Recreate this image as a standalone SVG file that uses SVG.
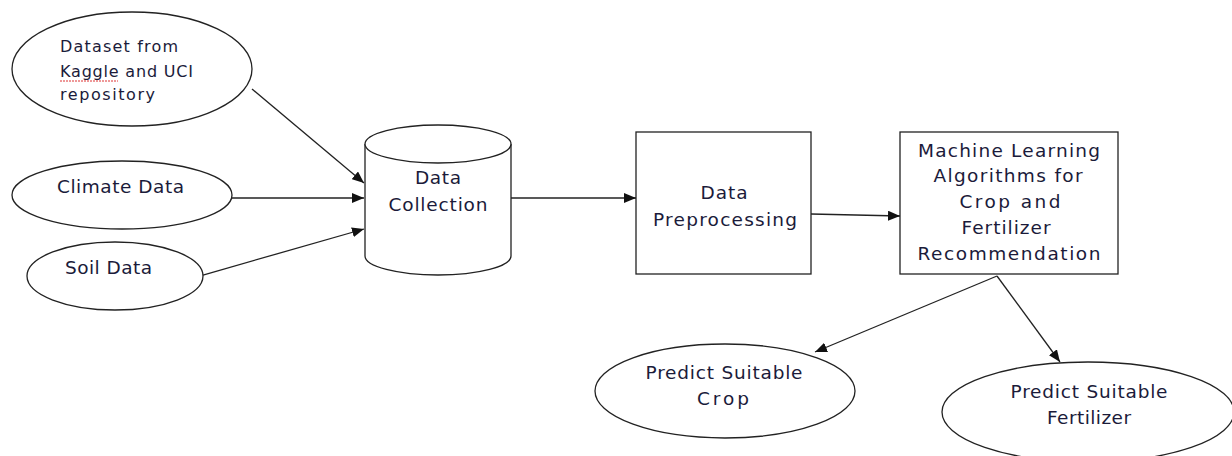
<svg xmlns="http://www.w3.org/2000/svg" width="1232" height="456" viewBox="0 0 1232 456">
<style>
.shape{fill:#fff;stroke:#222;stroke-width:1.3}
.conn{fill:none;stroke:#222;stroke-width:1.3}
text{font-family:"DejaVu Sans","Open Sans",sans-serif;font-size:18.5px;fill:#1b1b3a}
.s{font-size:16px}
.c{text-anchor:middle}
</style>
<defs>
<marker id="ah" viewBox="0 0 12 10" refX="12" refY="5" markerWidth="12" markerHeight="10" markerUnits="userSpaceOnUse" orient="auto">
<path d="M0,0 L12,5 L0,10 z" fill="#111"/>
</marker>
</defs>
<rect width="1232" height="456" fill="#fff"/>
<g id="connectors">
<line class="conn" x1="252" y1="89" x2="364" y2="183" marker-end="url(#ah)"/>
<line class="conn" x1="232" y1="198" x2="364" y2="198" marker-end="url(#ah)"/>
<line class="conn" x1="203" y1="275" x2="364" y2="229" marker-end="url(#ah)"/>
<line class="conn" x1="511" y1="198" x2="636" y2="198" marker-end="url(#ah)"/>
<line class="conn" x1="811" y1="214" x2="900" y2="216" marker-end="url(#ah)"/>
<line class="conn" x1="997" y1="276" x2="815" y2="352" marker-end="url(#ah)"/>
<line class="conn" x1="997" y1="276" x2="1060" y2="362" marker-end="url(#ah)"/>
</g>
<g id="dataset">
<ellipse class="shape" cx="132" cy="69" rx="120" ry="57"/>
<text class="s" x="60" y="52" textLength="118" lengthAdjust="spacing">Dataset from</text>
<text class="s" x="60" y="77" textLength="133" lengthAdjust="spacing">Kaggle and UCI</text>
<text class="s" x="60" y="100" textLength="95" lengthAdjust="spacing">repository</text>
<path d="M60,81 L118,81" fill="none" stroke="#d33" stroke-width="1" stroke-dasharray="2,1"/>
</g>
<g id="climate">
<ellipse class="shape" cx="122" cy="195" rx="110" ry="34"/>
<text x="57" y="193" textLength="127" lengthAdjust="spacing">Climate Data</text>
</g>
<g id="soil">
<ellipse class="shape" cx="115" cy="276" rx="88" ry="34"/>
<text x="65" y="274" textLength="87" lengthAdjust="spacing">Soil Data</text>
</g>
<g id="collection">
<path class="shape" d="M365,144 L365,256 A73,19 0 0 0 511,256 L511,144"/>
<ellipse class="shape" cx="438" cy="144" rx="73" ry="19"/>
<text class="c" x="438" y="184" textLength="46" lengthAdjust="spacing">Data</text>
<text class="c" x="438" y="211" textLength="99" lengthAdjust="spacing">Collection</text>
</g>
<g id="preprocessing">
<rect class="shape" x="636" y="132" width="175" height="142"/>
<text class="c" x="724" y="199" textLength="47" lengthAdjust="spacing">Data</text>
<text class="c" x="725" y="226" textLength="144" lengthAdjust="spacing">Preprocessing</text>
</g>
<g id="ml">
<rect class="shape" x="900" y="132" width="218" height="142"/>
<text class="c" x="1009" y="157" textLength="182" lengthAdjust="spacing">Machine Learning</text>
<text class="c" x="1008" y="182" textLength="149" lengthAdjust="spacing">Algorithms for</text>
<text class="c" x="1010" y="208" textLength="101" lengthAdjust="spacing">Crop and</text>
<text class="c" x="1006" y="234" textLength="89" lengthAdjust="spacing">Fertilizer</text>
<text class="c" x="1009" y="260" textLength="183" lengthAdjust="spacing">Recommendation</text>
</g>
<g id="crop">
<ellipse class="shape" cx="725" cy="391" rx="130" ry="47"/>
<text class="c" x="724" y="379" textLength="157" lengthAdjust="spacing">Predict Suitable</text>
<text class="c" x="723" y="405" textLength="52" lengthAdjust="spacing">Crop</text>
</g>
<g id="fertilizer">
<ellipse class="shape" cx="1088" cy="412" rx="146" ry="50"/>
<text class="c" x="1089" y="398" textLength="157" lengthAdjust="spacing">Predict Suitable</text>
<text class="c" x="1089" y="424" textLength="84" lengthAdjust="spacing">Fertilizer</text>
</g>
</svg>
